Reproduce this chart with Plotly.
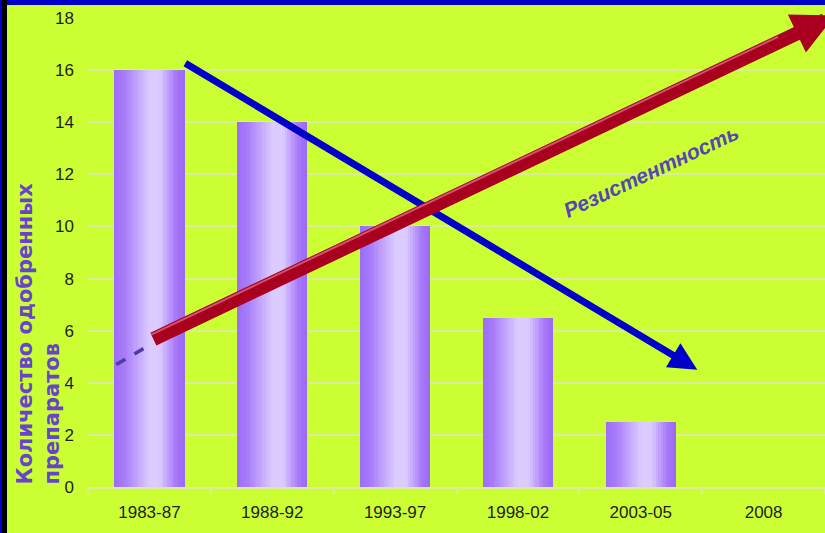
import plotly.graph_objects as go

# ---------------- data ----------------
categories = ["1983-87", "1988-92", "1993-97", "1998-02", "2003-05", "2008"]
approved_drugs = [16, 14, 10, 6.5, 2.5, None]          # 2008: no bar
y_tick_values = [0, 2, 4, 6, 8, 10, 12, 14, 16, 18]

# trend arrows, in (category index, value) units
approval_trend_x = [0.28, 4.46]
approval_trend_y = [16.3, 4.5]
resistance_trend_x = [0.02, 5.58]
resistance_trend_y = [5.65, 18.1]
resistance_history_x = [-0.27, 0.02]
resistance_history_y = [4.7, 5.5]

y_title = "Количество одобренных<br>препаратов"
resistance_label = "Резистентность"

# ---------------- style ----------------
BG = "#ccff33"
GRID = "#dcec9e"
TICK_FONT = dict(family="Liberation Sans, Arial", size=17, color="#1e1e1e")
W, H = 825, 533
ML, MR, MT, MB = 88, 0, 18, 46
BAR_W = 0.57
N_SLICES = 28

stops = [(0.0, (156, 108, 246)), (0.15, (168, 124, 250)), (0.5, (220, 203, 255)),
         (0.65, (220, 203, 255)), (0.88, (166, 120, 250)), (1.0, (154, 104, 244))]


def grad(t):
    for (t0, c0), (t1, c1) in zip(stops[:-1], stops[1:]):
        if t0 <= t <= t1:
            f = 0 if t1 == t0 else (t - t0) / (t1 - t0)
            return "rgb(%d,%d,%d)" % tuple(round(a + (b - a) * f) for a, b in zip(c0, c1))
    return "rgb(%d,%d,%d)" % stops[-1][1]


x_idx = list(range(len(categories)))
pw, ph = W - ML - MR, H - MT - MB
fig = go.Figure()

# gradient bars: many thin slices of the same bar
sw = BAR_W / N_SLICES
for k in range(N_SLICES):
    fig.add_trace(go.Bar(
        x=x_idx, y=approved_drugs, width=sw * 1.08, offset=-BAR_W / 2 + k * sw,
        marker=dict(color=grad((k + 0.5) / N_SLICES), line=dict(width=0)),
        showlegend=False, hoverinfo="skip"))

# dashed extension of resistance trend
fig.add_trace(go.Scatter(
    x=resistance_history_x, y=resistance_history_y, mode="lines",
    line=dict(color="#4c3ca4", width=3.5, dash="dash"), showlegend=False, hoverinfo="skip"))

# approval arrow (blue)
fig.add_annotation(x=approval_trend_x[1], y=approval_trend_y[1],
                   ax=approval_trend_x[0], ay=approval_trend_y[0],
                   xref="x", yref="y", axref="x", ayref="y", text="", showarrow=True,
                   arrowhead=2, arrowsize=0.8, arrowwidth=7, arrowcolor="#0000c8", standoff=0)
# resistance arrow (red)
fig.add_annotation(x=resistance_trend_x[1], y=resistance_trend_y[1],
                   ax=resistance_trend_x[0], ay=resistance_trend_y[0],
                   xref="x", yref="y", axref="x", ayref="y", text="", showarrow=True,
                   arrowhead=2, arrowsize=0.6, arrowwidth=14, arrowcolor="#a8001e", standoff=0)
# light upper edge of the red shaft (3-D look), derived from the same trend
dxp = (resistance_trend_x[1] - resistance_trend_x[0]) * pw / 6
dyp = -(resistance_trend_y[1] - resistance_trend_y[0]) * ph / 18
ln = (dxp ** 2 + dyp ** 2) ** 0.5
off_x = (dyp / ln) * 5 * 6 / pw          # perpendicular, toward upper-left
off_y = (dxp / ln) * 5 * 18 / ph
hx0 = resistance_trend_x[0] + off_x
hy0 = resistance_trend_y[0] + off_y
hx1 = resistance_trend_x[0] + 0.92 * (resistance_trend_x[1] - resistance_trend_x[0]) + off_x
hy1 = resistance_trend_y[0] + 0.92 * (resistance_trend_y[1] - resistance_trend_y[0]) + off_y
fig.add_annotation(x=hx1, y=hy1, ax=hx0, ay=hy0, xref="x", yref="y", axref="x", ayref="y",
                   text="", showarrow=True, arrowhead=0, arrowwidth=2,
                   arrowcolor="rgba(225,110,140,0.75)", standoff=0)

# resistance label
fig.add_annotation(x=4.08, y=12.1, xref="x", yref="y", text="<b><i>%s</i></b>" % resistance_label,
                   showarrow=False, textangle=-25,
                   font=dict(family="Liberation Sans, Arial", size=21, color="#5646b4"))

# y-axis title (two lines, bottom aligned)
fig.add_annotation(x=-(ML - 10) / pw, y=0, xref="paper", yref="paper",
                   xanchor="left", yanchor="bottom", text="<b>%s</b>" % y_title, align="left",
                   showarrow=False, textangle=-90,
                   font=dict(family="DejaVu Sans", size=21, color="#6644cc"))

# frame: blue top bar, blue+black left strip
fig.add_shape(type="rect", xref="paper", yref="paper", x0=-ML / pw, x1=1, y0=1 + (MT - 5) / ph,
              y1=1 + MT / ph, fillcolor="#0000c8", line=dict(width=0), layer="above")
fig.add_shape(type="rect", xref="paper", yref="paper", x0=-ML / pw, x1=-(ML - 7) / pw,
              y0=-MB / ph, y1=1 + MT / ph, fillcolor="#000000", line=dict(width=0), layer="above")
fig.add_shape(type="rect", xref="paper", yref="paper", x0=-ML / pw, x1=-(ML - 2) / pw,
              y0=-MB / ph, y1=1 + MT / ph, fillcolor="#0000c8", line=dict(width=0), layer="above")

boundaries = [i - 0.5 for i in range(len(categories) + 1)]
fig.update_layout(
    width=W, height=H, margin=dict(l=ML, r=MR, t=MT, b=MB),
    paper_bgcolor=BG, plot_bgcolor=BG, barmode="overlay", bargap=0,
    xaxis=dict(range=[-0.5, 5.5], tickmode="array", tickvals=x_idx, ticktext=categories,
               showgrid=False, zeroline=False, showline=True, linecolor=GRID, linewidth=2,
               ticks="", tickfont=TICK_FONT, ticklabelstandoff=9,
               minor=dict(tickvals=boundaries, ticks="outside", ticklen=5, tickwidth=1.5,
                          tickcolor=GRID, showgrid=False)),
    yaxis=dict(range=[0, 18], tickmode="array", tickvals=y_tick_values, showgrid=True,
               gridcolor=GRID, gridwidth=1.5, zeroline=False, showline=False, ticks="",
               tickfont=TICK_FONT, ticklabelstandoff=13),
)

fig.write_html("out.html")
